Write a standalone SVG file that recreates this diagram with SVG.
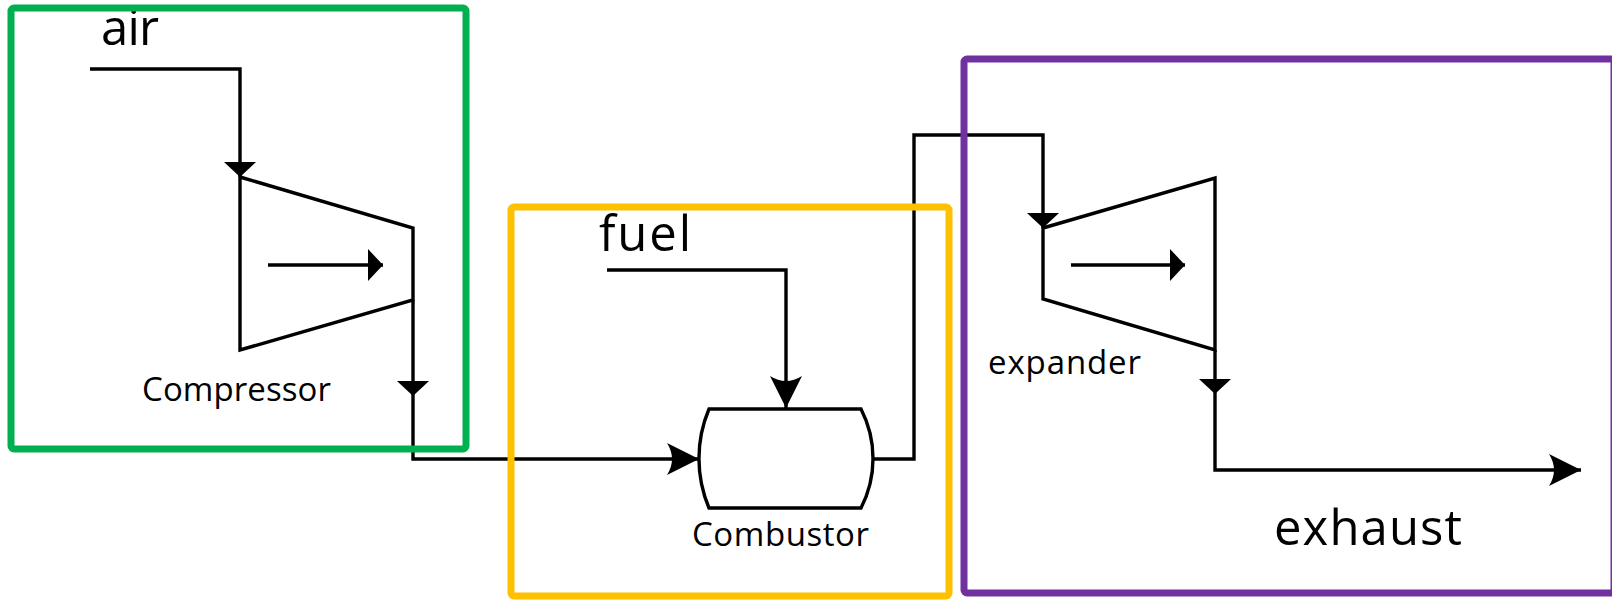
<svg xmlns="http://www.w3.org/2000/svg" width="1612" height="600" viewBox="0 0 1612 600">
  <style>
    .ln { fill: none; stroke: #000; stroke-width: 3.4; stroke-linejoin: miter; stroke-linecap: butt; }
    .big { font-family: "Open Sans", "Liberation Sans", sans-serif; font-size: 49px; fill: #000; }
    .small { font-family: "Open Sans", "Liberation Sans", sans-serif; font-size: 33px; fill: #000; }
    .zone { fill: none; stroke-width: 7; }
  </style>
  <defs>
    <marker id="flat" markerUnits="userSpaceOnUse" markerWidth="16" markerHeight="34" viewBox="0 -17 16 34" refX="15" refY="0" orient="auto" overflow="visible">
      <path d="M0,-16 L15,0 L0,16 Z" fill="#000"/>
    </marker>
    <marker id="dart" markerUnits="userSpaceOnUse" markerWidth="34" markerHeight="34" viewBox="0 -17 34 34" refX="32" refY="0" orient="auto" overflow="visible">
      <path d="M32,0 L0,-16 Q10,0 0,16 Z" fill="#000"/>
    </marker>
  </defs>
  <rect width="1612" height="600" fill="#fff"/>

  <g id="connectors">
    <path class="ln" d="M90,69 L240,69 L240,177" marker-end="url(#flat)"/>
    <path class="ln" d="M413,300 L413,396" marker-end="url(#flat)"/>
    <path class="ln" d="M413,396 L413,459 L699,459" marker-end="url(#dart)"/>
    <path class="ln" d="M607,270 L786,270 L786,408" marker-end="url(#dart)"/>
    <path class="ln" d="M873,459 L914,459 L914,135 L1043,135 L1043,228" marker-end="url(#flat)"/>
    <path class="ln" d="M1215,350 L1215,394" marker-end="url(#flat)"/>
    <path class="ln" d="M1215,394 L1215,470 L1581,470" marker-end="url(#dart)"/>
  </g>

  <g id="compressor">
    <path class="ln" d="M240,177 L413,228 L413,300 L240,350 Z"/>
    <path class="ln" d="M268,265 L383,265" marker-end="url(#flat)"/>
    <text class="small" x="142" y="401" textLength="189" lengthAdjust="spacing">Compressor</text>
  </g>

  <g id="combustor">
    <path class="ln" d="M709,409 L861,409 A108,108 0 0 1 861,508 L709,508 A127,127 0 0 1 709,409 Z"/>
    <text class="small" x="692" y="546" textLength="177" lengthAdjust="spacing">Combustor</text>
  </g>

  <g id="expander">
    <path class="ln" d="M1043,228 L1215,178 L1215,350 L1043,299 Z"/>
    <path class="ln" d="M1071,265 L1185,265" marker-end="url(#flat)"/>
    <text class="small" x="988" y="374" textLength="153" lengthAdjust="spacing">expander</text>
  </g>

  <g id="labels">
    <text class="big" x="101" y="45" textLength="58" lengthAdjust="spacing">air</text>
    <text class="big" x="599" y="251" textLength="92" lengthAdjust="spacing">fuel</text>
    <text class="big" x="1274" y="545" textLength="188" lengthAdjust="spacing">exhaust</text>
  </g>

  <g id="zone-compressor">
    <rect class="zone" x="11" y="8" width="455" height="441" rx="3" stroke="#00b050"/>
  </g>
  <g id="zone-combustor">
    <rect class="zone" x="511" y="207" width="438" height="389" rx="3" stroke="#ffc000"/>
  </g>
  <g id="zone-expander">
    <rect class="zone" x="964" y="59" width="650" height="534" rx="3" stroke="#7030a0"/>
  </g>
</svg>
